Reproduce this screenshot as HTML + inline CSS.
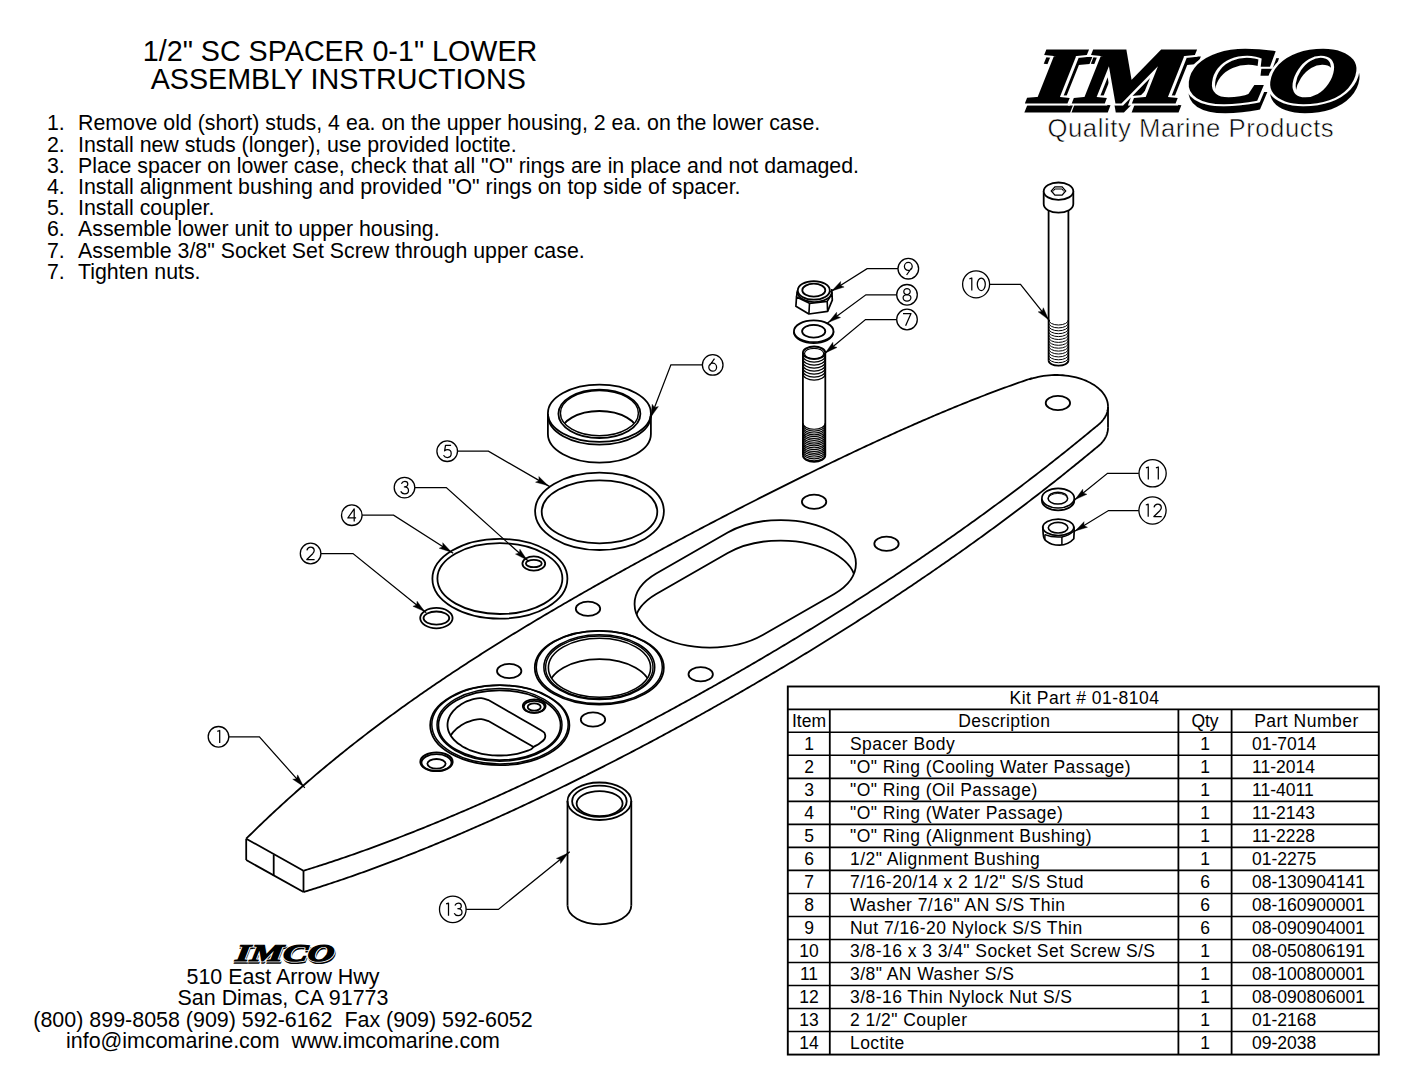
<!DOCTYPE html>
<html><head><meta charset="utf-8"><style>
html,body{margin:0;padding:0;background:#fff;}
body{width:1408px;height:1088px;overflow:hidden;position:relative;}
svg{position:absolute;left:0;top:0;}
text{font-family:"Liberation Sans", sans-serif;fill:#000;}
</style></head><body>
<svg width="1408" height="1088" viewBox="0 0 1408 1088">
<text x="340" y="60.5" font-size="28.7" text-anchor="middle" >1/2" SC SPACER 0-1" LOWER</text>
<text x="338.2" y="89" font-size="28.7" text-anchor="middle" >ASSEMBLY INSTRUCTIONS</text>
<text x="47" y="130.3" font-size="21.33" text-anchor="start" >1.</text>
<text x="78" y="130.3" font-size="21.33" text-anchor="start" >Remove old (short) studs, 4 ea. on the upper housing, 2 ea. on the lower case.</text>
<text x="47" y="151.5" font-size="21.33" text-anchor="start" >2.</text>
<text x="78" y="151.5" font-size="21.33" text-anchor="start" >Install new studs (longer), use provided loctite.</text>
<text x="47" y="172.70000000000002" font-size="21.33" text-anchor="start" >3.</text>
<text x="78" y="172.70000000000002" font-size="21.33" text-anchor="start" >Place spacer on lower case, check that all "O" rings are in place and not damaged.</text>
<text x="47" y="193.9" font-size="21.33" text-anchor="start" >4.</text>
<text x="78" y="193.9" font-size="21.33" text-anchor="start" >Install alignment bushing and provided "O" rings on top side of spacer.</text>
<text x="47" y="215.10000000000002" font-size="21.33" text-anchor="start" >5.</text>
<text x="78" y="215.10000000000002" font-size="21.33" text-anchor="start" >Install coupler.</text>
<text x="47" y="236.3" font-size="21.33" text-anchor="start" >6.</text>
<text x="78" y="236.3" font-size="21.33" text-anchor="start" >Assemble lower unit to upper housing.</text>
<text x="47" y="257.5" font-size="21.33" text-anchor="start" >7.</text>
<text x="78" y="257.5" font-size="21.33" text-anchor="start" >Assemble 3/8" Socket Set Screw through upper case.</text>
<text x="47" y="278.70000000000005" font-size="21.33" text-anchor="start" >7.</text>
<text x="78" y="278.70000000000005" font-size="21.33" text-anchor="start" >Tighten nuts.</text>
<text x="283" y="984" font-size="21.45" text-anchor="middle" >510 East Arrow Hwy</text>
<text x="283" y="1005.3" font-size="21.45" text-anchor="middle" >San Dimas, CA 91773</text>
<text x="283" y="1026.6" font-size="21.45" text-anchor="middle"  xml:space="preserve">(800) 899-8058 (909) 592-6162  Fax (909) 592-6052</text>
<text x="283" y="1048" font-size="21.45" text-anchor="middle"  xml:space="preserve">info@imcomarine.com  www.imcomarine.com</text>
<g transform="translate(1029,102) skewX(-7) scale(1.56,1)">
<text x="1.60" y="7.5" style="font-family:'Liberation Serif',serif;font-weight:bold;font-style:italic;font-size:78px" fill="#000" stroke="#000" stroke-width="5" stroke-linejoin="miter">IMCO</text>
<text x="0" y="0" style="font-family:'Liberation Serif',serif;font-weight:bold;font-style:italic;font-size:78px" fill="none" stroke="#fff" stroke-width="7" stroke-linejoin="miter">IMCO</text>
<text x="0" y="0" style="font-family:'Liberation Serif',serif;font-weight:bold;font-style:italic;font-size:78px" fill="#000" stroke="#000" stroke-width="3" stroke-linejoin="miter">IMCO</text>
</g>
<g transform="translate(235,960.5) skewX(-7) scale(1.54,1)">
<text x="0.52" y="2.3" style="font-family:'Liberation Serif',serif;font-weight:bold;font-style:italic;font-size:24px" fill="#000" stroke="#000" stroke-width="1.7" stroke-linejoin="miter">IMCO</text>
<text x="0" y="0" style="font-family:'Liberation Serif',serif;font-weight:bold;font-style:italic;font-size:24px" fill="none" stroke="#fff" stroke-width="2.5" stroke-linejoin="miter">IMCO</text>
<text x="0" y="0" style="font-family:'Liberation Serif',serif;font-weight:bold;font-style:italic;font-size:24px" fill="#000" stroke="#000" stroke-width="1.1" stroke-linejoin="miter">IMCO</text>
</g>
<text x="1047.5" y="137" font-size="25.7" text-anchor="start"  letter-spacing="0.55" stroke="#fff" stroke-width="0.55">Quality Marine Products</text>
<rect x="787.8" y="686.5" width="591.0" height="368.0799999999999" fill="none" stroke="#000" stroke-width="1.9"/>
<line x1="787.8" y1="709.4" x2="1378.8" y2="709.4" stroke="#000" stroke-width="1.6"/>
<line x1="787.8" y1="732.3" x2="1378.8" y2="732.3" stroke="#000" stroke-width="1.6"/>
<line x1="787.8" y1="755.3199999999999" x2="1378.8" y2="755.3199999999999" stroke="#000" stroke-width="1.6"/>
<line x1="787.8" y1="778.3399999999999" x2="1378.8" y2="778.3399999999999" stroke="#000" stroke-width="1.6"/>
<line x1="787.8" y1="801.3599999999999" x2="1378.8" y2="801.3599999999999" stroke="#000" stroke-width="1.6"/>
<line x1="787.8" y1="824.38" x2="1378.8" y2="824.38" stroke="#000" stroke-width="1.6"/>
<line x1="787.8" y1="847.4" x2="1378.8" y2="847.4" stroke="#000" stroke-width="1.6"/>
<line x1="787.8" y1="870.42" x2="1378.8" y2="870.42" stroke="#000" stroke-width="1.6"/>
<line x1="787.8" y1="893.4399999999999" x2="1378.8" y2="893.4399999999999" stroke="#000" stroke-width="1.6"/>
<line x1="787.8" y1="916.4599999999999" x2="1378.8" y2="916.4599999999999" stroke="#000" stroke-width="1.6"/>
<line x1="787.8" y1="939.48" x2="1378.8" y2="939.48" stroke="#000" stroke-width="1.6"/>
<line x1="787.8" y1="962.5" x2="1378.8" y2="962.5" stroke="#000" stroke-width="1.6"/>
<line x1="787.8" y1="985.52" x2="1378.8" y2="985.52" stroke="#000" stroke-width="1.6"/>
<line x1="787.8" y1="1008.54" x2="1378.8" y2="1008.54" stroke="#000" stroke-width="1.6"/>
<line x1="787.8" y1="1031.56" x2="1378.8" y2="1031.56" stroke="#000" stroke-width="1.6"/>
<line x1="829.8" y1="709.4" x2="829.8" y2="1054.58" stroke="#000" stroke-width="1.8"/>
<line x1="1178.4" y1="709.4" x2="1178.4" y2="1054.58" stroke="#000" stroke-width="1.8"/>
<line x1="1231.6" y1="709.4" x2="1231.6" y2="1054.58" stroke="#000" stroke-width="1.8"/>
<text x="1084.5" y="703.5" font-size="17.5" text-anchor="middle"  letter-spacing="0.5">Kit Part # 01-8104</text>
<text x="809" y="727.0" font-size="17.5" text-anchor="middle" >Item</text>
<text x="1004.3" y="727.0" font-size="17.5" text-anchor="middle"  letter-spacing="0.4">Description</text>
<text x="1205" y="727.0" font-size="17.5" text-anchor="middle" >Qty</text>
<text x="1306.5" y="727.0" font-size="17.5" text-anchor="middle"  letter-spacing="0.5">Part Number</text>
<text x="809" y="750.0" font-size="17.5" text-anchor="middle" >1</text>
<text x="850" y="750.0" font-size="17.5" text-anchor="start"  letter-spacing="0.45">Spacer Body</text>
<text x="1205" y="750.0" font-size="17.5" text-anchor="middle" >1</text>
<text x="1252" y="750.0" font-size="17.5" text-anchor="start" >01-7014</text>
<text x="809" y="773.02" font-size="17.5" text-anchor="middle" >2</text>
<text x="850" y="773.02" font-size="17.5" text-anchor="start"  letter-spacing="0.45">"O" Ring (Cooling Water Passage)</text>
<text x="1205" y="773.02" font-size="17.5" text-anchor="middle" >1</text>
<text x="1252" y="773.02" font-size="17.5" text-anchor="start" >11-2014</text>
<text x="809" y="796.04" font-size="17.5" text-anchor="middle" >3</text>
<text x="850" y="796.04" font-size="17.5" text-anchor="start"  letter-spacing="0.45">"O" Ring (Oil Passage)</text>
<text x="1205" y="796.04" font-size="17.5" text-anchor="middle" >1</text>
<text x="1252" y="796.04" font-size="17.5" text-anchor="start" >11-4011</text>
<text x="809" y="819.06" font-size="17.5" text-anchor="middle" >4</text>
<text x="850" y="819.06" font-size="17.5" text-anchor="start"  letter-spacing="0.45">"O" Ring (Water Passage)</text>
<text x="1205" y="819.06" font-size="17.5" text-anchor="middle" >1</text>
<text x="1252" y="819.06" font-size="17.5" text-anchor="start" >11-2143</text>
<text x="809" y="842.08" font-size="17.5" text-anchor="middle" >5</text>
<text x="850" y="842.08" font-size="17.5" text-anchor="start"  letter-spacing="0.45">"O" Ring (Alignment Bushing)</text>
<text x="1205" y="842.08" font-size="17.5" text-anchor="middle" >1</text>
<text x="1252" y="842.08" font-size="17.5" text-anchor="start" >11-2228</text>
<text x="809" y="865.1" font-size="17.5" text-anchor="middle" >6</text>
<text x="850" y="865.1" font-size="17.5" text-anchor="start"  letter-spacing="0.45">1/2" Alignment Bushing</text>
<text x="1205" y="865.1" font-size="17.5" text-anchor="middle" >1</text>
<text x="1252" y="865.1" font-size="17.5" text-anchor="start" >01-2275</text>
<text x="809" y="888.12" font-size="17.5" text-anchor="middle" >7</text>
<text x="850" y="888.12" font-size="17.5" text-anchor="start"  letter-spacing="0.45">7/16-20/14 x 2 1/2" S/S Stud</text>
<text x="1205" y="888.12" font-size="17.5" text-anchor="middle" >6</text>
<text x="1252" y="888.12" font-size="17.5" text-anchor="start" >08-130904141</text>
<text x="809" y="911.14" font-size="17.5" text-anchor="middle" >8</text>
<text x="850" y="911.14" font-size="17.5" text-anchor="start"  letter-spacing="0.45">Washer 7/16" AN S/S Thin</text>
<text x="1205" y="911.14" font-size="17.5" text-anchor="middle" >6</text>
<text x="1252" y="911.14" font-size="17.5" text-anchor="start" >08-160900001</text>
<text x="809" y="934.16" font-size="17.5" text-anchor="middle" >9</text>
<text x="850" y="934.16" font-size="17.5" text-anchor="start"  letter-spacing="0.45">Nut 7/16-20 Nylock S/S Thin</text>
<text x="1205" y="934.16" font-size="17.5" text-anchor="middle" >6</text>
<text x="1252" y="934.16" font-size="17.5" text-anchor="start" >08-090904001</text>
<text x="809" y="957.1800000000001" font-size="17.5" text-anchor="middle" >10</text>
<text x="850" y="957.1800000000001" font-size="17.5" text-anchor="start"  letter-spacing="0.45">3/8-16 x 3 3/4" Socket Set Screw S/S</text>
<text x="1205" y="957.1800000000001" font-size="17.5" text-anchor="middle" >1</text>
<text x="1252" y="957.1800000000001" font-size="17.5" text-anchor="start" >08-050806191</text>
<text x="809" y="980.2" font-size="17.5" text-anchor="middle" >11</text>
<text x="850" y="980.2" font-size="17.5" text-anchor="start"  letter-spacing="0.45">3/8" AN Washer S/S</text>
<text x="1205" y="980.2" font-size="17.5" text-anchor="middle" >1</text>
<text x="1252" y="980.2" font-size="17.5" text-anchor="start" >08-100800001</text>
<text x="809" y="1003.22" font-size="17.5" text-anchor="middle" >12</text>
<text x="850" y="1003.22" font-size="17.5" text-anchor="start"  letter-spacing="0.45">3/8-16 Thin Nylock Nut S/S</text>
<text x="1205" y="1003.22" font-size="17.5" text-anchor="middle" >1</text>
<text x="1252" y="1003.22" font-size="17.5" text-anchor="start" >08-090806001</text>
<text x="809" y="1026.24" font-size="17.5" text-anchor="middle" >13</text>
<text x="850" y="1026.24" font-size="17.5" text-anchor="start"  letter-spacing="0.45">2 1/2" Coupler</text>
<text x="1205" y="1026.24" font-size="17.5" text-anchor="middle" >1</text>
<text x="1252" y="1026.24" font-size="17.5" text-anchor="start" >01-2168</text>
<text x="809" y="1049.26" font-size="17.5" text-anchor="middle" >14</text>
<text x="850" y="1049.26" font-size="17.5" text-anchor="start"  letter-spacing="0.45">Loctite</text>
<text x="1205" y="1049.26" font-size="17.5" text-anchor="middle" >1</text>
<text x="1252" y="1049.26" font-size="17.5" text-anchor="start" >09-2038</text>
<path d="M246.20,838.71 L248.20,836.73 L250.20,834.75 L252.20,832.79 L254.20,830.83 L256.21,828.88 L258.21,826.95 L260.21,825.02 L262.21,823.10 L264.21,821.19 L266.21,819.29 L268.21,817.39 L270.21,815.51 L272.22,813.64 L274.22,811.77 L276.22,809.91 L278.22,808.06 L280.22,806.22 L282.22,804.39 L284.22,802.56 L286.22,800.74 L288.23,798.93 L290.23,797.13 L292.23,795.34 L294.23,793.56 L296.23,791.78 L298.23,790.01 L300.23,788.25 L302.23,786.50 L304.24,784.75 L306.24,783.01 L308.24,781.28 L310.24,779.56 L312.24,777.84 L314.24,776.13 L316.24,774.43 L318.24,772.74 L320.25,771.05 L322.25,769.37 L324.25,767.70 L326.25,766.03 L328.25,764.37 L330.25,762.72 L332.25,761.07 L334.25,759.43 L336.26,757.80 L338.26,756.18 L340.26,754.56 L342.26,752.95 L344.26,751.34 L346.26,749.74 L348.26,748.15 L350.26,746.56 L352.27,744.98 L354.27,743.41 L356.27,741.84 L358.27,740.28 L360.27,738.72 L362.27,737.17 L364.27,735.63 L366.27,734.09 L368.28,732.56 L370.28,731.03 L372.28,729.51 L374.28,727.99 L376.28,726.48 L378.28,724.98 L380.28,723.48 L382.28,721.99 L384.29,720.50 L386.29,719.02 L388.29,717.54 L390.29,716.07 L392.29,714.61 L394.29,713.15 L396.29,711.69 L398.29,710.24 L400.29,708.79 L402.30,707.35 L404.30,705.92 L406.30,704.49 L408.30,703.06 L410.30,701.64 L412.30,700.23 L414.30,698.81 L416.30,697.41 L418.31,696.01 L420.31,694.61 L422.31,693.22 L424.31,691.83 L426.31,690.44 L428.31,689.06 L430.31,687.69 L432.31,686.32 L434.32,684.95 L436.32,683.59 L438.32,682.23 L440.32,680.88 L442.32,679.53 L444.32,678.18 L446.32,676.84 L448.32,675.50 L450.33,674.17 L452.33,672.84 L454.33,671.52 L456.33,670.19 L458.33,668.88 L460.33,667.56 L462.33,666.25 L464.33,664.94 L466.34,663.64 L468.34,662.34 L470.34,661.05 L472.34,659.75 L474.34,658.47 L476.34,657.18 L478.34,655.90 L480.34,654.62 L482.35,653.35 L484.35,652.07 L486.35,650.81 L488.35,649.54 L490.35,648.28 L492.35,647.02 L494.35,645.77 L496.35,644.51 L498.36,643.26 L500.36,642.02 L502.36,640.77 L504.36,639.53 L506.36,638.30 L508.36,637.06 L510.36,635.83 L512.36,634.60 L514.37,633.38 L516.37,632.16 L518.37,630.94 L520.37,629.72 L522.37,628.51 L524.37,627.29 L526.37,626.09 L528.37,624.88 L530.38,623.68 L532.38,622.48 L534.38,621.28 L536.38,620.08 L538.38,618.89 L540.38,617.70 L542.38,616.51 L544.38,615.32 L546.39,614.14 L548.39,612.96 L550.39,611.78 L552.39,610.60 L554.39,609.43 L556.39,608.26 L558.39,607.09 L560.39,605.92 L562.39,604.76 L564.40,603.59 L566.40,602.43 L568.40,601.27 L570.40,600.12 L572.40,598.96 L574.40,597.81 L576.40,596.66 L578.40,595.51 L580.41,594.37 L582.41,593.22 L584.41,592.08 L586.41,590.94 L588.41,589.80 L590.41,588.67 L592.41,587.53 L594.41,586.40 L596.42,585.27 L598.42,584.14 L600.42,583.01 L602.42,581.89 L604.42,580.76 L606.42,579.64 L608.42,578.52 L610.42,577.40 L612.43,576.29 L614.43,575.17 L616.43,574.06 L618.43,572.95 L620.43,571.84 L622.43,570.73 L624.43,569.62 L626.43,568.52 L628.44,567.42 L630.44,566.31 L632.44,565.21 L634.44,564.11 L636.44,563.02 L638.44,561.92 L640.44,560.83 L642.44,559.74 L644.45,558.64 L646.45,557.56 L648.45,556.47 L650.45,555.38 L652.45,554.30 L654.45,553.21 L656.45,552.13 L658.45,551.05 L660.46,549.97 L662.46,548.89 L664.46,547.81 L666.46,546.74 L668.46,545.66 L670.46,544.59 L672.46,543.52 L674.46,542.45 L676.47,541.38 L678.47,540.32 L680.47,539.25 L682.47,538.18 L684.47,537.12 L686.47,536.06 L688.47,535.00 L690.47,533.94 L692.48,532.88 L694.48,531.82 L696.48,530.77 L698.48,529.72 L700.48,528.66 L702.48,527.61 L704.48,526.56 L706.48,525.51 L708.48,524.46 L710.49,523.42 L712.49,522.37 L714.49,521.33 L716.49,520.28 L718.49,519.24 L720.49,518.20 L722.49,517.16 L724.49,516.13 L726.50,515.09 L728.50,514.05 L730.50,513.02 L732.50,511.99 L734.50,510.95 L736.50,509.92 L738.50,508.90 L740.50,507.87 L742.51,506.84 L744.51,505.82 L746.51,504.79 L748.51,503.77 L750.51,502.75 L752.51,501.73 L754.51,500.71 L756.51,499.69 L758.52,498.67 L760.52,497.66 L762.52,496.64 L764.52,495.63 L766.52,494.62 L768.52,493.61 L770.52,492.60 L772.52,491.60 L774.53,490.59 L776.53,489.58 L778.53,488.58 L780.53,487.58 L782.53,486.58 L784.53,485.58 L786.53,484.58 L788.53,483.59 L790.54,482.59 L792.54,481.60 L794.54,480.61 L796.54,479.61 L798.54,478.62 L800.54,477.64 L802.54,476.65 L804.54,475.67 L806.55,474.68 L808.55,473.70 L810.55,472.72 L812.55,471.74 L814.55,470.76 L816.55,469.79 L818.55,468.81 L820.55,467.84 L822.56,466.87 L824.56,465.90 L826.56,464.93 L828.56,463.96 L830.56,463.00 L832.56,462.04 L834.56,461.08 L836.56,460.12 L838.57,459.16 L840.57,458.20 L842.57,457.25 L844.57,456.29 L846.57,455.34 L848.57,454.39 L850.57,453.45 L852.57,452.50 L854.57,451.56 L856.58,450.61 L858.58,449.67 L860.58,448.73 L862.58,447.80 L864.58,446.86 L866.58,445.93 L868.58,445.00 L870.58,444.07 L872.59,443.15 L874.59,442.22 L876.59,441.30 L878.59,440.38 L880.59,439.46 L882.59,438.54 L884.59,437.63 L886.59,436.72 L888.60,435.81 L890.60,434.90 L892.60,433.99 L894.60,433.09 L896.60,432.19 L898.60,431.29 L900.60,430.40 L902.60,429.50 L904.61,428.61 L906.61,427.72 L908.61,426.84 L910.61,425.95 L912.61,425.07 L914.61,424.19 L916.61,423.31 L918.61,422.44 L920.62,421.57 L922.62,420.70 L924.62,419.83 L926.62,418.97 L928.62,418.11 L930.62,417.25 L932.62,416.40 L934.62,415.54 L936.63,414.69 L938.63,413.85 L940.63,413.00 L942.63,412.16 L944.63,411.32 L946.63,410.49 L948.63,409.66 L950.63,408.83 L952.64,408.00 L954.64,407.18 L956.64,406.36 L958.64,405.54 L960.64,404.73 L962.64,403.92 L964.64,403.11 L966.64,402.31 L968.65,401.51 L970.65,400.71 L972.65,399.92 L974.65,399.13 L976.65,398.34 L978.65,397.56 L980.65,396.78 L982.65,396.00 L984.66,395.23 L986.66,394.46 L988.66,393.70 L990.66,392.93 L992.66,392.18 L994.66,391.42 L996.66,390.67 L998.66,389.93 L1000.67,389.19 L1002.67,388.45 L1004.67,387.71 L1006.67,386.98 L1008.67,386.26 L1010.67,385.54 L1012.67,384.82 L1014.67,384.11 L1016.67,383.40 L1018.68,382.69 L1020.68,381.99 L1022.68,381.29 L1024.68,380.60 L1026.68,379.92 L1028.68,379.23 L1030.68,378.55 L1030.68,378.99 L1033.14,378.21 L1035.66,377.51 L1038.24,376.89 L1040.87,376.36 L1043.54,375.92 L1046.25,375.56 L1048.99,375.29 L1051.74,375.11 L1054.51,375.01 L1057.28,375.01 L1060.05,375.10 L1062.81,375.27 L1065.55,375.54 L1068.26,375.89 L1070.93,376.33 L1073.56,376.85 L1076.15,377.46 L1078.67,378.15 L1081.14,378.92 L1083.53,379.77 L1085.84,380.70 L1088.06,381.70 L1090.20,382.77 L1092.24,383.91 L1094.17,385.11 L1096.00,386.37 L1097.72,387.69 L1099.31,389.07 L1100.78,390.49 L1102.13,391.96 L1103.34,393.47 L1104.42,395.02 L1105.36,396.59 L1106.16,398.20 L1106.82,399.83 L1107.34,401.48 L1107.70,403.15 L1107.93,404.82 L1108.00,406.50" fill="none" stroke="#000" stroke-width="1.8" />
<path d="M303.50,870.75 L305.50,870.13 L307.50,869.51 L309.50,868.89 L311.51,868.26 L313.51,867.63 L315.51,867.00 L317.51,866.36 L319.51,865.72 L321.51,865.08 L323.51,864.43 L325.52,863.77 L327.52,863.12 L329.52,862.46 L331.52,861.80 L333.52,861.13 L335.52,860.46 L337.52,859.79 L339.53,859.11 L341.53,858.43 L343.53,857.75 L345.53,857.06 L347.53,856.37 L349.53,855.68 L351.53,854.98 L353.54,854.28 L355.54,853.58 L357.54,852.87 L359.54,852.16 L361.54,851.44 L363.54,850.73 L365.54,850.01 L367.55,849.28 L369.55,848.56 L371.55,847.83 L373.55,847.09 L375.55,846.36 L377.55,845.62 L379.55,844.88 L381.56,844.13 L383.56,843.38 L385.56,842.63 L387.56,841.88 L389.56,841.12 L391.56,840.36 L393.57,839.59 L395.57,838.83 L397.57,838.06 L399.57,837.28 L401.57,836.51 L403.57,835.73 L405.57,834.95 L407.58,834.16 L409.58,833.38 L411.58,832.59 L413.58,831.79 L415.58,831.00 L417.58,830.20 L419.58,829.40 L421.59,828.59 L423.59,827.79 L425.59,826.98 L427.59,826.16 L429.59,825.35 L431.59,824.53 L433.59,823.71 L435.60,822.88 L437.60,822.06 L439.60,821.23 L441.60,820.40 L443.60,819.56 L445.60,818.72 L447.60,817.88 L449.61,817.04 L451.61,816.20 L453.61,815.35 L455.61,814.50 L457.61,813.65 L459.61,812.79 L461.61,811.93 L463.62,811.07 L465.62,810.21 L467.62,809.34 L469.62,808.47 L471.62,807.60 L473.62,806.73 L475.62,805.85 L477.63,804.98 L479.63,804.09 L481.63,803.21 L483.63,802.33 L485.63,801.44 L487.63,800.55 L489.63,799.65 L491.64,798.76 L493.64,797.86 L495.64,796.96 L497.64,796.06 L499.64,795.15 L501.64,794.25 L503.64,793.34 L505.65,792.43 L507.65,791.51 L509.65,790.60 L511.65,789.68 L513.65,788.76 L515.65,787.83 L517.65,786.91 L519.66,785.98 L521.66,785.05 L523.66,784.12 L525.66,783.18 L527.66,782.24 L529.66,781.30 L531.66,780.36 L533.67,779.42 L535.67,778.47 L537.67,777.53 L539.67,776.57 L541.67,775.62 L543.67,774.67 L545.68,773.71 L547.68,772.75 L549.68,771.79 L551.68,770.83 L553.68,769.86 L555.68,768.89 L557.68,767.92 L559.69,766.95 L561.69,765.98 L563.69,765.00 L565.69,764.02 L567.69,763.04 L569.69,762.06 L571.69,761.08 L573.70,760.09 L575.70,759.10 L577.70,758.11 L579.70,757.12 L581.70,756.12 L583.70,755.13 L585.70,754.13 L587.71,753.12 L589.71,752.12 L591.71,751.12 L593.71,750.11 L595.71,749.10 L597.71,748.09 L599.71,747.08 L601.72,746.06 L603.72,745.04 L605.72,744.02 L607.72,743.00 L609.72,741.98 L611.72,740.95 L613.72,739.92 L615.73,738.90 L617.73,737.86 L619.73,736.83 L621.73,735.79 L623.73,734.76 L625.73,733.72 L627.73,732.68 L629.74,731.63 L631.74,730.59 L633.74,729.54 L635.74,728.49 L637.74,727.44 L639.74,726.39 L641.74,725.33 L643.75,724.27 L645.75,723.22 L647.75,722.15 L649.75,721.09 L651.75,720.03 L653.75,718.96 L655.75,717.89 L657.76,716.82 L659.76,715.75 L661.76,714.67 L663.76,713.59 L665.76,712.52 L667.76,711.44 L669.76,710.35 L671.77,709.27 L673.77,708.18 L675.77,707.09 L677.77,706.00 L679.77,704.91 L681.77,703.82 L683.77,702.72 L685.78,701.62 L687.78,700.52 L689.78,699.42 L691.78,698.32 L693.78,697.21 L695.78,696.10 L697.79,694.99 L699.79,693.88 L701.79,692.77 L703.79,691.65 L705.79,690.53 L707.79,689.41 L709.79,688.29 L711.80,687.17 L713.80,686.04 L715.80,684.91 L717.80,683.78 L719.80,682.65 L721.80,681.52 L723.80,680.38 L725.81,679.25 L727.81,678.11 L729.81,676.97 L731.81,675.82 L733.81,674.68 L735.81,673.53 L737.81,672.38 L739.82,671.23 L741.82,670.08 L743.82,668.92 L745.82,667.76 L747.82,666.60 L749.82,665.44 L751.82,664.28 L753.83,663.11 L755.83,661.95 L757.83,660.78 L759.83,659.60 L761.83,658.43 L763.83,657.25 L765.83,656.08 L767.84,654.90 L769.84,653.71 L771.84,652.53 L773.84,651.34 L775.84,650.16 L777.84,648.97 L779.84,647.77 L781.85,646.58 L783.85,645.38 L785.85,644.18 L787.85,642.98 L789.85,641.78 L791.85,640.58 L793.85,639.37 L795.86,638.16 L797.86,636.95 L799.86,635.73 L801.86,634.52 L803.86,633.30 L805.86,632.08 L807.86,630.86 L809.87,629.63 L811.87,628.41 L813.87,627.18 L815.87,625.95 L817.87,624.71 L819.87,623.48 L821.87,622.24 L823.88,621.00 L825.88,619.76 L827.88,618.51 L829.88,617.27 L831.88,616.02 L833.88,614.77 L835.88,613.51 L837.89,612.26 L839.89,611.00 L841.89,609.74 L843.89,608.48 L845.89,607.21 L847.89,605.94 L849.90,604.68 L851.90,603.40 L853.90,602.13 L855.90,600.85 L857.90,599.57 L859.90,598.29 L861.90,597.01 L863.91,595.72 L865.91,594.43 L867.91,593.14 L869.91,591.85 L871.91,590.55 L873.91,589.25 L875.91,587.95 L877.92,586.65 L879.92,585.34 L881.92,584.03 L883.92,582.72 L885.92,581.41 L887.92,580.09 L889.92,578.77 L891.93,577.45 L893.93,576.13 L895.93,574.80 L897.93,573.47 L899.93,572.14 L901.93,570.80 L903.93,569.47 L905.94,568.13 L907.94,566.78 L909.94,565.44 L911.94,564.09 L913.94,562.74 L915.94,561.39 L917.94,560.03 L919.95,558.67 L921.95,557.31 L923.95,555.95 L925.95,554.58 L927.95,553.21 L929.95,551.84 L931.95,550.46 L933.96,549.08 L935.96,547.70 L937.96,546.32 L939.96,544.93 L941.96,543.54 L943.96,542.15 L945.96,540.76 L947.97,539.36 L949.97,537.96 L951.97,536.55 L953.97,535.14 L955.97,533.73 L957.97,532.32 L959.97,530.90 L961.98,529.49 L963.98,528.06 L965.98,526.64 L967.98,525.21 L969.98,523.78 L971.98,522.34 L973.98,520.90 L975.99,519.46 L977.99,518.02 L979.99,516.57 L981.99,515.12 L983.99,513.67 L985.99,512.21 L987.99,510.75 L990.00,509.29 L992.00,507.82 L994.00,506.35 L996.00,504.88 L998.00,503.40 L1000.00,501.92 L1002.00,500.44 L1004.01,498.95 L1006.01,497.46 L1008.01,495.97 L1010.01,494.47 L1012.01,492.97 L1014.01,491.47 L1016.02,489.96 L1018.02,488.45 L1020.02,486.93 L1022.02,485.42 L1024.02,483.89 L1026.02,482.37 L1028.02,480.84 L1030.03,479.31 L1032.03,477.77 L1034.03,476.23 L1036.03,474.69 L1038.03,473.14 L1040.03,471.59 L1042.03,470.04 L1044.04,468.48 L1046.04,466.92 L1048.04,465.35 L1050.04,463.78 L1052.04,462.21 L1054.04,460.63 L1056.04,459.05 L1058.05,457.47 L1060.05,455.88 L1062.05,454.28 L1064.05,452.69 L1066.05,451.09 L1068.05,449.48 L1070.05,447.87 L1072.06,446.26 L1074.06,444.64 L1076.06,443.02 L1078.06,441.40 L1080.06,439.77 L1082.06,438.14 L1084.06,436.50 L1086.07,434.86 L1088.07,433.21 L1090.07,431.56 L1092.07,429.91 L1094.07,428.25 L1096.07,426.59 L1098.07,424.92 L1098.07,425.01 L1098.56,424.60 L1099.04,424.18 L1099.50,423.76 L1099.95,423.33 L1100.40,422.90 L1100.83,422.47 L1101.25,422.03 L1101.65,421.58 L1102.05,421.13 L1102.43,420.68 L1102.80,420.23 L1103.16,419.77 L1103.51,419.31 L1103.84,418.84 L1104.16,418.38 L1104.47,417.90 L1104.77,417.43 L1105.05,416.95 L1105.33,416.47 L1105.58,415.99 L1105.83,415.50 L1106.06,415.02 L1106.28,414.53 L1106.49,414.04 L1106.68,413.54 L1106.86,413.05 L1107.03,412.55 L1107.19,412.05 L1107.33,411.55 L1107.45,411.05 L1107.57,410.55 L1107.67,410.04 L1107.76,409.54 L1107.83,409.03 L1107.89,408.53 L1107.94,408.02 L1107.97,407.51 L1107.99,407.01 L1108.00,406.50" fill="none" stroke="#000" stroke-width="1.8" />
<path d="M303.50,892.05 L305.50,891.43 L307.50,890.81 L309.50,890.19 L311.51,889.56 L313.51,888.93 L315.51,888.30 L317.51,887.66 L319.51,887.02 L321.51,886.38 L323.51,885.73 L325.52,885.07 L327.52,884.42 L329.52,883.76 L331.52,883.10 L333.52,882.43 L335.52,881.76 L337.52,881.09 L339.53,880.41 L341.53,879.73 L343.53,879.05 L345.53,878.36 L347.53,877.67 L349.53,876.98 L351.53,876.28 L353.54,875.58 L355.54,874.88 L357.54,874.17 L359.54,873.46 L361.54,872.74 L363.54,872.03 L365.54,871.31 L367.55,870.58 L369.55,869.86 L371.55,869.13 L373.55,868.39 L375.55,867.66 L377.55,866.92 L379.55,866.18 L381.56,865.43 L383.56,864.68 L385.56,863.93 L387.56,863.18 L389.56,862.42 L391.56,861.66 L393.57,860.89 L395.57,860.13 L397.57,859.36 L399.57,858.58 L401.57,857.81 L403.57,857.03 L405.57,856.25 L407.58,855.46 L409.58,854.68 L411.58,853.89 L413.58,853.09 L415.58,852.30 L417.58,851.50 L419.58,850.70 L421.59,849.89 L423.59,849.09 L425.59,848.28 L427.59,847.46 L429.59,846.65 L431.59,845.83 L433.59,845.01 L435.60,844.18 L437.60,843.36 L439.60,842.53 L441.60,841.70 L443.60,840.86 L445.60,840.02 L447.60,839.18 L449.61,838.34 L451.61,837.50 L453.61,836.65 L455.61,835.80 L457.61,834.95 L459.61,834.09 L461.61,833.23 L463.62,832.37 L465.62,831.51 L467.62,830.64 L469.62,829.77 L471.62,828.90 L473.62,828.03 L475.62,827.15 L477.63,826.28 L479.63,825.39 L481.63,824.51 L483.63,823.63 L485.63,822.74 L487.63,821.85 L489.63,820.95 L491.64,820.06 L493.64,819.16 L495.64,818.26 L497.64,817.36 L499.64,816.45 L501.64,815.55 L503.64,814.64 L505.65,813.73 L507.65,812.81 L509.65,811.90 L511.65,810.98 L513.65,810.06 L515.65,809.13 L517.65,808.21 L519.66,807.28 L521.66,806.35 L523.66,805.42 L525.66,804.48 L527.66,803.54 L529.66,802.60 L531.66,801.66 L533.67,800.72 L535.67,799.77 L537.67,798.83 L539.67,797.87 L541.67,796.92 L543.67,795.97 L545.68,795.01 L547.68,794.05 L549.68,793.09 L551.68,792.13 L553.68,791.16 L555.68,790.19 L557.68,789.22 L559.69,788.25 L561.69,787.28 L563.69,786.30 L565.69,785.32 L567.69,784.34 L569.69,783.36 L571.69,782.38 L573.70,781.39 L575.70,780.40 L577.70,779.41 L579.70,778.42 L581.70,777.42 L583.70,776.43 L585.70,775.43 L587.71,774.42 L589.71,773.42 L591.71,772.42 L593.71,771.41 L595.71,770.40 L597.71,769.39 L599.71,768.38 L601.72,767.36 L603.72,766.34 L605.72,765.32 L607.72,764.30 L609.72,763.28 L611.72,762.25 L613.72,761.22 L615.73,760.20 L617.73,759.16 L619.73,758.13 L621.73,757.09 L623.73,756.06 L625.73,755.02 L627.73,753.98 L629.74,752.93 L631.74,751.89 L633.74,750.84 L635.74,749.79 L637.74,748.74 L639.74,747.69 L641.74,746.63 L643.75,745.57 L645.75,744.52 L647.75,743.45 L649.75,742.39 L651.75,741.33 L653.75,740.26 L655.75,739.19 L657.76,738.12 L659.76,737.05 L661.76,735.97 L663.76,734.89 L665.76,733.82 L667.76,732.74 L669.76,731.65 L671.77,730.57 L673.77,729.48 L675.77,728.39 L677.77,727.30 L679.77,726.21 L681.77,725.12 L683.77,724.02 L685.78,722.92 L687.78,721.82 L689.78,720.72 L691.78,719.62 L693.78,718.51 L695.78,717.40 L697.79,716.29 L699.79,715.18 L701.79,714.07 L703.79,712.95 L705.79,711.83 L707.79,710.71 L709.79,709.59 L711.80,708.47 L713.80,707.34 L715.80,706.21 L717.80,705.08 L719.80,703.95 L721.80,702.82 L723.80,701.68 L725.81,700.55 L727.81,699.41 L729.81,698.27 L731.81,697.12 L733.81,695.98 L735.81,694.83 L737.81,693.68 L739.82,692.53 L741.82,691.38 L743.82,690.22 L745.82,689.06 L747.82,687.90 L749.82,686.74 L751.82,685.58 L753.83,684.41 L755.83,683.25 L757.83,682.08 L759.83,680.90 L761.83,679.73 L763.83,678.55 L765.83,677.38 L767.84,676.20 L769.84,675.01 L771.84,673.83 L773.84,672.64 L775.84,671.46 L777.84,670.27 L779.84,669.07 L781.85,667.88 L783.85,666.68 L785.85,665.48 L787.85,664.28 L789.85,663.08 L791.85,661.88 L793.85,660.67 L795.86,659.46 L797.86,658.25 L799.86,657.03 L801.86,655.82 L803.86,654.60 L805.86,653.38 L807.86,652.16 L809.87,650.93 L811.87,649.71 L813.87,648.48 L815.87,647.25 L817.87,646.01 L819.87,644.78 L821.87,643.54 L823.88,642.30 L825.88,641.06 L827.88,639.81 L829.88,638.57 L831.88,637.32 L833.88,636.07 L835.88,634.81 L837.89,633.56 L839.89,632.30 L841.89,631.04 L843.89,629.78 L845.89,628.51 L847.89,627.24 L849.90,625.98 L851.90,624.70 L853.90,623.43 L855.90,622.15 L857.90,620.87 L859.90,619.59 L861.90,618.31 L863.91,617.02 L865.91,615.73 L867.91,614.44 L869.91,613.15 L871.91,611.85 L873.91,610.55 L875.91,609.25 L877.92,607.95 L879.92,606.64 L881.92,605.33 L883.92,604.02 L885.92,602.71 L887.92,601.39 L889.92,600.07 L891.93,598.75 L893.93,597.43 L895.93,596.10 L897.93,594.77 L899.93,593.44 L901.93,592.10 L903.93,590.77 L905.94,589.43 L907.94,588.08 L909.94,586.74 L911.94,585.39 L913.94,584.04 L915.94,582.69 L917.94,581.33 L919.95,579.97 L921.95,578.61 L923.95,577.25 L925.95,575.88 L927.95,574.51 L929.95,573.14 L931.95,571.76 L933.96,570.38 L935.96,569.00 L937.96,567.62 L939.96,566.23 L941.96,564.84 L943.96,563.45 L945.96,562.06 L947.97,560.66 L949.97,559.26 L951.97,557.85 L953.97,556.44 L955.97,555.03 L957.97,553.62 L959.97,552.20 L961.98,550.79 L963.98,549.36 L965.98,547.94 L967.98,546.51 L969.98,545.08 L971.98,543.64 L973.98,542.20 L975.99,540.76 L977.99,539.32 L979.99,537.87 L981.99,536.42 L983.99,534.97 L985.99,533.51 L987.99,532.05 L990.00,530.59 L992.00,529.12 L994.00,527.65 L996.00,526.18 L998.00,524.70 L1000.00,523.22 L1002.00,521.74 L1004.01,520.25 L1006.01,518.76 L1008.01,517.27 L1010.01,515.77 L1012.01,514.27 L1014.01,512.77 L1016.02,511.26 L1018.02,509.75 L1020.02,508.23 L1022.02,506.72 L1024.02,505.19 L1026.02,503.67 L1028.02,502.14 L1030.03,500.61 L1032.03,499.07 L1034.03,497.53 L1036.03,495.99 L1038.03,494.44 L1040.03,492.89 L1042.03,491.34 L1044.04,489.78 L1046.04,488.22 L1048.04,486.65 L1050.04,485.08 L1052.04,483.51 L1054.04,481.93 L1056.04,480.35 L1058.05,478.77 L1060.05,477.18 L1062.05,475.58 L1064.05,473.99 L1066.05,472.39 L1068.05,470.78 L1070.05,469.17 L1072.06,467.56 L1074.06,465.94 L1076.06,464.32 L1078.06,462.70 L1080.06,461.07 L1082.06,459.44 L1084.06,457.80 L1086.07,456.16 L1088.07,454.51 L1090.07,452.86 L1092.07,451.21 L1094.07,449.55 L1096.07,447.89 L1098.07,446.22 L1098.07,446.31 L1098.56,445.90 L1099.04,445.48 L1099.50,445.06 L1099.95,444.63 L1100.40,444.20 L1100.83,443.77 L1101.25,443.33 L1101.65,442.88 L1102.05,442.43 L1102.43,441.98 L1102.80,441.53 L1103.16,441.07 L1103.51,440.61 L1103.84,440.14 L1104.16,439.68 L1104.47,439.20 L1104.77,438.73 L1105.05,438.25 L1105.33,437.77 L1105.58,437.29 L1105.83,436.80 L1106.06,436.32 L1106.28,435.83 L1106.49,435.34 L1106.68,434.84 L1106.86,434.35 L1107.03,433.85 L1107.19,433.35 L1107.33,432.85 L1107.45,432.35 L1107.57,431.85 L1107.67,431.34 L1107.76,430.84 L1107.83,430.33 L1107.89,429.83 L1107.94,429.32 L1107.97,428.81 L1107.99,428.31 L1108.00,427.80" fill="none" stroke="#000" stroke-width="1.8" />
<line x1="1108" y1="406.5" x2="1108" y2="427.8" stroke="#000" stroke-width="1.8"/>
<line x1="246.2" y1="838.7088964417101" x2="246.2" y2="860.00889644171" stroke="#000" stroke-width="1.8"/>
<line x1="246.2" y1="860.00889644171" x2="303.5" y2="892.0467211401299" stroke="#000" stroke-width="1.8"/>
<line x1="303.5" y1="870.7467211401299" x2="303.5" y2="892.0467211401299" stroke="#000" stroke-width="1.8"/>
<line x1="246.2" y1="838.7088964417101" x2="303.5" y2="870.7467211401299" stroke="#000" stroke-width="1.8"/>
<line x1="273.7" y1="854.72780879092" x2="273.7" y2="876.02780879092" stroke="#000" stroke-width="1.8"/>
<ellipse cx="509.2" cy="671" rx="12.2" ry="7.1" fill="none" stroke="#000" stroke-width="1.8"/>
<ellipse cx="588" cy="608.7" rx="12.2" ry="7.1" fill="none" stroke="#000" stroke-width="1.8"/>
<ellipse cx="593" cy="719.5" rx="12.2" ry="7.1" fill="none" stroke="#000" stroke-width="1.8"/>
<ellipse cx="700.7" cy="674.3" rx="12.2" ry="7.1" fill="none" stroke="#000" stroke-width="1.8"/>
<ellipse cx="814.1" cy="501.8" rx="12.2" ry="7.1" fill="none" stroke="#000" stroke-width="1.8"/>
<ellipse cx="886.5" cy="543.7" rx="12.2" ry="7.1" fill="none" stroke="#000" stroke-width="1.8"/>
<ellipse cx="1057.9" cy="403" rx="12.2" ry="7.1" fill="none" stroke="#000" stroke-width="1.8"/>
<ellipse cx="499.8" cy="725.2" rx="69.6" ry="40" fill="none" stroke="#000" stroke-width="1.8"/>
<ellipse cx="500" cy="724.6" rx="68.2" ry="39.3" fill="none" stroke="#000" stroke-width="1.5"/>
<ellipse cx="499.5" cy="724.85" rx="62.5" ry="36.35" fill="none" stroke="#000" stroke-width="1.5"/>
<ellipse cx="499.5" cy="725.2" rx="61.1" ry="34.9" fill="none" stroke="#000" stroke-width="1.8"/>
<ellipse cx="599.3" cy="667.7" rx="64.5" ry="36.9" fill="none" stroke="#000" stroke-width="1.8"/>
<ellipse cx="599.3" cy="667.15" rx="63" ry="36.35" fill="none" stroke="#000" stroke-width="1.5"/>
<ellipse cx="599.3" cy="667.15" rx="55.4" ry="32.35" fill="none" stroke="#000" stroke-width="1.6"/>
<ellipse cx="599.3" cy="667.4" rx="53.7" ry="31.4" fill="none" stroke="#000" stroke-width="1.4"/>
<ellipse cx="599.5" cy="667.75" rx="51.1" ry="29.55" fill="none" stroke="#000" stroke-width="1.6"/>
<ellipse cx="436.5" cy="761.8" rx="16.2" ry="9.4" fill="none" stroke="#000" stroke-width="1.8"/>
<ellipse cx="436.5" cy="762.6" rx="15" ry="8.4" fill="none" stroke="#000" stroke-width="1.8"/>
<ellipse cx="436.5" cy="763.8" rx="9.1" ry="4.8" fill="none" stroke="#000" stroke-width="1.8"/>
<ellipse cx="534.2" cy="706.1" rx="11.4" ry="6.8" fill="none" stroke="#000" stroke-width="1.8"/>
<ellipse cx="534.2" cy="706.8" rx="10.4" ry="6" fill="none" stroke="#000" stroke-width="1.8"/>
<ellipse cx="534.2" cy="707" rx="6.5" ry="3.7" fill="none" stroke="#000" stroke-width="1.8"/>
<clipPath id="slotclip"><path d="M656.24,573.55 L727.74,532.55 A75.32,43.49 0 0 1 834.26,594.05 L762.76,635.05 A75.32,43.49 0 0 1 656.24,573.55 Z"/></clipPath>
<path d="M656.24,573.55 L727.74,532.55 A75.32,43.49 0 0 1 834.26,594.05 L762.76,635.05 A75.32,43.49 0 0 1 656.24,573.55 Z" fill="none" stroke="#000" stroke-width="1.8" />
<path d="M656.24,594.05 L727.74,553.05 A75.32,43.49 0 0 1 834.26,614.55 L762.76,655.55 A75.32,43.49 0 0 1 656.24,594.05 Z" fill="none" stroke="#000" stroke-width="1.8" clip-path="url(#slotclip)"/>
<clipPath id="wclip"><ellipse cx="599.5" cy="667.7" rx="51.1" ry="29.5"/></clipPath>
<ellipse cx="599.5" cy="688.7" rx="51.1" ry="29.5" fill="none" stroke="#000" stroke-width="1.8" clip-path="url(#wclip)"/>
<clipPath id="dclip"><path d="M489.30,700.50 C493.58,702.97 506.47,710.38 515.00,715.30 C523.53,720.22 535.53,726.92 540.50,730.00 C545.47,733.08 544.13,732.30 544.80,733.80 C545.47,735.30 545.38,737.38 544.50,739.00 C543.62,740.62 541.32,742.17 539.50,743.50 C537.68,744.83 534.93,746.08 533.60,747.00 C532.27,747.92 532.35,748.49 531.51,749.03 C530.68,749.58 529.58,749.89 528.58,750.29 C527.58,750.68 526.55,751.06 525.50,751.41 C524.45,751.77 523.38,752.10 522.30,752.41 C521.21,752.72 520.10,753.01 518.98,753.28 C517.86,753.54 516.72,753.79 515.57,754.01 C514.42,754.23 513.25,754.42 512.08,754.59 C510.91,754.77 509.72,754.91 508.53,755.04 C507.34,755.16 506.14,755.26 504.94,755.33 C503.73,755.41 502.52,755.46 501.31,755.48 C500.11,755.51 498.89,755.51 497.69,755.48 C496.48,755.46 495.27,755.41 494.06,755.33 C492.86,755.26 491.66,755.16 490.47,755.04 C489.28,754.91 488.09,754.77 486.92,754.59 C485.75,754.42 484.58,754.23 483.43,754.01 C482.28,753.79 481.14,753.54 480.02,753.28 C478.90,753.01 477.79,752.72 476.70,752.41 C475.62,752.10 474.55,751.77 473.50,751.41 C472.45,751.06 471.42,750.68 470.42,750.29 C469.42,749.89 468.44,749.47 467.49,749.03 C466.53,748.60 465.60,748.14 464.71,747.67 C463.81,747.19 462.93,746.70 462.09,746.19 C461.25,745.68 460.44,745.15 459.67,744.61 C458.89,744.06 458.14,743.50 457.43,742.93 C456.72,742.35 456.04,741.76 455.40,741.16 C454.76,740.56 454.15,739.95 453.59,739.32 C453.02,738.69 452.49,738.05 452.00,737.41 C451.50,736.76 451.05,736.10 450.64,735.43 C450.22,734.77 449.85,734.09 449.51,733.41 C449.18,732.73 448.89,732.03 448.64,731.34 C448.38,730.65 448.17,729.95 448.01,729.24 C447.84,728.54 447.71,727.84 447.63,727.13 C447.54,726.42 447.50,725.71 447.50,725.00 C447.50,724.29 447.54,723.58 447.63,722.87 C447.71,722.16 447.84,721.46 448.01,720.76 C448.17,720.05 448.38,719.35 448.64,718.66 C448.89,717.97 449.18,717.27 449.51,716.59 C449.85,715.91 450.22,715.23 450.64,714.57 C451.05,713.90 451.50,713.24 452.00,712.59 C452.49,711.95 453.02,711.31 453.59,710.68 C454.15,710.05 454.76,709.44 455.40,708.84 C456.04,708.24 456.72,707.65 457.43,707.07 C458.14,706.50 458.89,705.94 459.67,705.39 C460.44,704.85 461.25,704.32 462.09,703.81 C462.93,703.30 464.04,702.70 464.71,702.33 C465.37,701.97 464.44,702.22 466.08,701.64 C467.71,701.05 471.95,699.37 474.50,698.80 C477.05,698.23 478.93,697.92 481.40,698.20 C483.87,698.48 487.98,700.12 489.30,700.50 Z"/></clipPath>
<path d="M489.30,700.50 C493.58,702.97 506.47,710.38 515.00,715.30 C523.53,720.22 535.53,726.92 540.50,730.00 C545.47,733.08 544.13,732.30 544.80,733.80 C545.47,735.30 545.38,737.38 544.50,739.00 C543.62,740.62 541.32,742.17 539.50,743.50 C537.68,744.83 534.93,746.08 533.60,747.00 C532.27,747.92 532.35,748.49 531.51,749.03 C530.68,749.58 529.58,749.89 528.58,750.29 C527.58,750.68 526.55,751.06 525.50,751.41 C524.45,751.77 523.38,752.10 522.30,752.41 C521.21,752.72 520.10,753.01 518.98,753.28 C517.86,753.54 516.72,753.79 515.57,754.01 C514.42,754.23 513.25,754.42 512.08,754.59 C510.91,754.77 509.72,754.91 508.53,755.04 C507.34,755.16 506.14,755.26 504.94,755.33 C503.73,755.41 502.52,755.46 501.31,755.48 C500.11,755.51 498.89,755.51 497.69,755.48 C496.48,755.46 495.27,755.41 494.06,755.33 C492.86,755.26 491.66,755.16 490.47,755.04 C489.28,754.91 488.09,754.77 486.92,754.59 C485.75,754.42 484.58,754.23 483.43,754.01 C482.28,753.79 481.14,753.54 480.02,753.28 C478.90,753.01 477.79,752.72 476.70,752.41 C475.62,752.10 474.55,751.77 473.50,751.41 C472.45,751.06 471.42,750.68 470.42,750.29 C469.42,749.89 468.44,749.47 467.49,749.03 C466.53,748.60 465.60,748.14 464.71,747.67 C463.81,747.19 462.93,746.70 462.09,746.19 C461.25,745.68 460.44,745.15 459.67,744.61 C458.89,744.06 458.14,743.50 457.43,742.93 C456.72,742.35 456.04,741.76 455.40,741.16 C454.76,740.56 454.15,739.95 453.59,739.32 C453.02,738.69 452.49,738.05 452.00,737.41 C451.50,736.76 451.05,736.10 450.64,735.43 C450.22,734.77 449.85,734.09 449.51,733.41 C449.18,732.73 448.89,732.03 448.64,731.34 C448.38,730.65 448.17,729.95 448.01,729.24 C447.84,728.54 447.71,727.84 447.63,727.13 C447.54,726.42 447.50,725.71 447.50,725.00 C447.50,724.29 447.54,723.58 447.63,722.87 C447.71,722.16 447.84,721.46 448.01,720.76 C448.17,720.05 448.38,719.35 448.64,718.66 C448.89,717.97 449.18,717.27 449.51,716.59 C449.85,715.91 450.22,715.23 450.64,714.57 C451.05,713.90 451.50,713.24 452.00,712.59 C452.49,711.95 453.02,711.31 453.59,710.68 C454.15,710.05 454.76,709.44 455.40,708.84 C456.04,708.24 456.72,707.65 457.43,707.07 C458.14,706.50 458.89,705.94 459.67,705.39 C460.44,704.85 461.25,704.32 462.09,703.81 C462.93,703.30 464.04,702.70 464.71,702.33 C465.37,701.97 464.44,702.22 466.08,701.64 C467.71,701.05 471.95,699.37 474.50,698.80 C477.05,698.23 478.93,697.92 481.40,698.20 C483.87,698.48 487.98,700.12 489.30,700.50 Z" fill="none" stroke="#000" stroke-width="1.8" />
<g clip-path="url(#dclip)"><path d="M489.30,700.50 C493.58,702.97 506.47,710.38 515.00,715.30 C523.53,720.22 535.53,726.92 540.50,730.00 C545.47,733.08 544.13,732.30 544.80,733.80 C545.47,735.30 545.38,737.38 544.50,739.00 C543.62,740.62 541.32,742.17 539.50,743.50 C537.68,744.83 534.93,746.08 533.60,747.00 C532.27,747.92 532.35,748.49 531.51,749.03 C530.68,749.58 529.58,749.89 528.58,750.29 C527.58,750.68 526.55,751.06 525.50,751.41 C524.45,751.77 523.38,752.10 522.30,752.41 C521.21,752.72 520.10,753.01 518.98,753.28 C517.86,753.54 516.72,753.79 515.57,754.01 C514.42,754.23 513.25,754.42 512.08,754.59 C510.91,754.77 509.72,754.91 508.53,755.04 C507.34,755.16 506.14,755.26 504.94,755.33 C503.73,755.41 502.52,755.46 501.31,755.48 C500.11,755.51 498.89,755.51 497.69,755.48 C496.48,755.46 495.27,755.41 494.06,755.33 C492.86,755.26 491.66,755.16 490.47,755.04 C489.28,754.91 488.09,754.77 486.92,754.59 C485.75,754.42 484.58,754.23 483.43,754.01 C482.28,753.79 481.14,753.54 480.02,753.28 C478.90,753.01 477.79,752.72 476.70,752.41 C475.62,752.10 474.55,751.77 473.50,751.41 C472.45,751.06 471.42,750.68 470.42,750.29 C469.42,749.89 468.44,749.47 467.49,749.03 C466.53,748.60 465.60,748.14 464.71,747.67 C463.81,747.19 462.93,746.70 462.09,746.19 C461.25,745.68 460.44,745.15 459.67,744.61 C458.89,744.06 458.14,743.50 457.43,742.93 C456.72,742.35 456.04,741.76 455.40,741.16 C454.76,740.56 454.15,739.95 453.59,739.32 C453.02,738.69 452.49,738.05 452.00,737.41 C451.50,736.76 451.05,736.10 450.64,735.43 C450.22,734.77 449.85,734.09 449.51,733.41 C449.18,732.73 448.89,732.03 448.64,731.34 C448.38,730.65 448.17,729.95 448.01,729.24 C447.84,728.54 447.71,727.84 447.63,727.13 C447.54,726.42 447.50,725.71 447.50,725.00 C447.50,724.29 447.54,723.58 447.63,722.87 C447.71,722.16 447.84,721.46 448.01,720.76 C448.17,720.05 448.38,719.35 448.64,718.66 C448.89,717.97 449.18,717.27 449.51,716.59 C449.85,715.91 450.22,715.23 450.64,714.57 C451.05,713.90 451.50,713.24 452.00,712.59 C452.49,711.95 453.02,711.31 453.59,710.68 C454.15,710.05 454.76,709.44 455.40,708.84 C456.04,708.24 456.72,707.65 457.43,707.07 C458.14,706.50 458.89,705.94 459.67,705.39 C460.44,704.85 461.25,704.32 462.09,703.81 C462.93,703.30 464.04,702.70 464.71,702.33 C465.37,701.97 464.44,702.22 466.08,701.64 C467.71,701.05 471.95,699.37 474.50,698.80 C477.05,698.23 478.93,697.92 481.40,698.20 C483.87,698.48 487.98,700.12 489.30,700.50 Z" transform="translate(0,21)" fill="none" stroke="#000" stroke-width="1.8"/></g>
<ellipse cx="814.1" cy="352.8" rx="11.2" ry="6.3" fill="none" stroke="#000" stroke-width="1.8"/>
<ellipse cx="814.1" cy="353.5" rx="9.6" ry="5.2" fill="none" stroke="#000" stroke-width="1.2"/>
<line x1="802.9" y1="352.8" x2="802.9" y2="455.5" stroke="#000" stroke-width="1.8"/>
<line x1="825.3000000000001" y1="352.8" x2="825.3000000000001" y2="455.5" stroke="#000" stroke-width="1.8"/>
<path d="M802.9,355.80 A11.2,6.3 0 0 0 825.3000000000001,355.80" fill="none" stroke="#000" stroke-width="1.35" />
<path d="M802.9,358.80 A11.2,6.3 0 0 0 825.3000000000001,358.80" fill="none" stroke="#000" stroke-width="1.35" />
<path d="M802.9,361.80 A11.2,6.3 0 0 0 825.3000000000001,361.80" fill="none" stroke="#000" stroke-width="1.35" />
<path d="M802.9,364.80 A11.2,6.3 0 0 0 825.3000000000001,364.80" fill="none" stroke="#000" stroke-width="1.35" />
<path d="M802.9,367.80 A11.2,6.3 0 0 0 825.3000000000001,367.80" fill="none" stroke="#000" stroke-width="1.35" />
<path d="M802.9,370.80 A11.2,6.3 0 0 0 825.3000000000001,370.80" fill="none" stroke="#000" stroke-width="1.35" />
<path d="M802.9,373.80 A11.2,6.3 0 0 0 825.3000000000001,373.80" fill="none" stroke="#000" stroke-width="1.35" />
<path d="M802.9,423.00 A11.2,6.3 0 0 0 825.3000000000001,423.00" fill="none" stroke="#000" stroke-width="1.15" />
<path d="M802.9,424.85 A11.2,6.3 0 0 0 825.3000000000001,424.85" fill="none" stroke="#000" stroke-width="1.15" />
<path d="M802.9,426.70 A11.2,6.3 0 0 0 825.3000000000001,426.70" fill="none" stroke="#000" stroke-width="1.15" />
<path d="M802.9,428.55 A11.2,6.3 0 0 0 825.3000000000001,428.55" fill="none" stroke="#000" stroke-width="1.15" />
<path d="M802.9,430.40 A11.2,6.3 0 0 0 825.3000000000001,430.40" fill="none" stroke="#000" stroke-width="1.15" />
<path d="M802.9,432.25 A11.2,6.3 0 0 0 825.3000000000001,432.25" fill="none" stroke="#000" stroke-width="1.15" />
<path d="M802.9,434.10 A11.2,6.3 0 0 0 825.3000000000001,434.10" fill="none" stroke="#000" stroke-width="1.15" />
<path d="M802.9,435.95 A11.2,6.3 0 0 0 825.3000000000001,435.95" fill="none" stroke="#000" stroke-width="1.15" />
<path d="M802.9,437.80 A11.2,6.3 0 0 0 825.3000000000001,437.80" fill="none" stroke="#000" stroke-width="1.15" />
<path d="M802.9,439.65 A11.2,6.3 0 0 0 825.3000000000001,439.65" fill="none" stroke="#000" stroke-width="1.15" />
<path d="M802.9,441.50 A11.2,6.3 0 0 0 825.3000000000001,441.50" fill="none" stroke="#000" stroke-width="1.15" />
<path d="M802.9,443.35 A11.2,6.3 0 0 0 825.3000000000001,443.35" fill="none" stroke="#000" stroke-width="1.15" />
<path d="M802.9,445.20 A11.2,6.3 0 0 0 825.3000000000001,445.20" fill="none" stroke="#000" stroke-width="1.15" />
<path d="M802.9,447.05 A11.2,6.3 0 0 0 825.3000000000001,447.05" fill="none" stroke="#000" stroke-width="1.15" />
<path d="M802.9,448.90 A11.2,6.3 0 0 0 825.3000000000001,448.90" fill="none" stroke="#000" stroke-width="1.15" />
<path d="M802.9,450.75 A11.2,6.3 0 0 0 825.3000000000001,450.75" fill="none" stroke="#000" stroke-width="1.15" />
<path d="M802.9,452.60 A11.2,6.3 0 0 0 825.3000000000001,452.60" fill="none" stroke="#000" stroke-width="1.15" />
<path d="M802.9,454.45 A11.2,6.3 0 0 0 825.3000000000001,454.45" fill="none" stroke="#000" stroke-width="1.15" />
<path d="M802.9,455.5 A11.2,6.3 0 0 0 825.3000000000001,455.5" fill="none" stroke="#000" stroke-width="1.8" />
<path d="M794,331.3 L794,333 A19.75,10.9 0 0 0 833.4,333 L833.4,331.3" fill="none" stroke="#000" stroke-width="1.8" />
<ellipse cx="813.7" cy="331.3" rx="19.75" ry="10.9" fill="#fff" stroke="#000" stroke-width="1.8"/>
<ellipse cx="813.7" cy="331.3" rx="11.6" ry="6.4" fill="none" stroke="#000" stroke-width="1.8"/>
<path d="M802.1,331.3 A11.6,6.4 0 0 1 825.3,331.3" fill="none" stroke="#000" stroke-width="0.9" />
<path d="M796.5,297 L809.5,303.3 L827.2,301.4 L832,293.7 L832.3,300.1 L827.6,311.4 L808.9,314 L795.9,306.3 Z" fill="#fff" stroke="#000" stroke-width="1.7" stroke-linejoin="round"/>
<line x1="809.5" y1="303.3" x2="808.9" y2="314" stroke="#000" stroke-width="1.6"/>
<line x1="827.2" y1="301.4" x2="827.6" y2="311.4" stroke="#000" stroke-width="1.6"/>
<path d="M797.3,292 A16.6,9.6 0 0 0 831.8,292" fill="none" stroke="#000" stroke-width="1.7" />
<path d="M796.5,297 L797.3,290.5 M832,293.7 L831.8,289" stroke="#000" stroke-width="1.6"/>
<ellipse cx="813.8" cy="290.4" rx="16" ry="9.3" fill="#fff" stroke="#000" stroke-width="1.8"/>
<ellipse cx="813.8" cy="290.2" rx="11.5" ry="6.5" fill="none" stroke="#000" stroke-width="1.8"/>
<line x1="1048.6" y1="209" x2="1048.6" y2="360.5" stroke="#000" stroke-width="1.8"/>
<line x1="1068.4" y1="209" x2="1068.4" y2="360.5" stroke="#000" stroke-width="1.8"/>
<path d="M1048.6,319.80 A9.9,5.2 0 0 0 1068.4,319.80" fill="none" stroke="#000" stroke-width="1.0" />
<path d="M1048.6,322.70 A9.9,5.2 0 0 0 1068.4,322.70" fill="none" stroke="#000" stroke-width="1.0" />
<path d="M1048.6,325.60 A9.9,5.2 0 0 0 1068.4,325.60" fill="none" stroke="#000" stroke-width="1.0" />
<path d="M1048.6,328.50 A9.9,5.2 0 0 0 1068.4,328.50" fill="none" stroke="#000" stroke-width="1.0" />
<path d="M1048.6,331.40 A9.9,5.2 0 0 0 1068.4,331.40" fill="none" stroke="#000" stroke-width="1.0" />
<path d="M1048.6,334.30 A9.9,5.2 0 0 0 1068.4,334.30" fill="none" stroke="#000" stroke-width="1.0" />
<path d="M1048.6,337.20 A9.9,5.2 0 0 0 1068.4,337.20" fill="none" stroke="#000" stroke-width="1.0" />
<path d="M1048.6,340.10 A9.9,5.2 0 0 0 1068.4,340.10" fill="none" stroke="#000" stroke-width="1.0" />
<path d="M1048.6,343.00 A9.9,5.2 0 0 0 1068.4,343.00" fill="none" stroke="#000" stroke-width="1.0" />
<path d="M1048.6,345.90 A9.9,5.2 0 0 0 1068.4,345.90" fill="none" stroke="#000" stroke-width="1.0" />
<path d="M1048.6,348.80 A9.9,5.2 0 0 0 1068.4,348.80" fill="none" stroke="#000" stroke-width="1.0" />
<path d="M1048.6,351.70 A9.9,5.2 0 0 0 1068.4,351.70" fill="none" stroke="#000" stroke-width="1.0" />
<path d="M1048.6,354.60 A9.9,5.2 0 0 0 1068.4,354.60" fill="none" stroke="#000" stroke-width="1.0" />
<path d="M1048.6,357.50 A9.9,5.2 0 0 0 1068.4,357.50" fill="none" stroke="#000" stroke-width="1.0" />
<path d="M1048.6,360.40 A9.9,5.2 0 0 0 1068.4,360.40" fill="none" stroke="#000" stroke-width="1.0" />
<path d="M1048.6,360.5 A9.9,5.2 0 0 0 1068.4,360.5" fill="none" stroke="#000" stroke-width="1.8" />
<path d="M1043.7,191.2 L1043.7,204 A14.8,8.7 0 0 0 1073.3,204 L1073.3,191.2" fill="#fff" stroke="#000" stroke-width="1.8"/>
<ellipse cx="1058.5" cy="191.2" rx="14.8" ry="8.7" fill="#fff" stroke="#000" stroke-width="1.8"/>
<polygon points="1051.3,191 1054.9,186.9 1062.1,186.9 1065.7,191 1062.1,195.1 1054.9,195.1" fill="none" stroke="#000" stroke-width="1.3"/>
<path d="M1054.9,189 L1062.1,189 L1063.8,191.5 M1054.9,189 L1053,191.5" fill="none" stroke="#000" stroke-width="1"/>
<path d="M1041.9,498.2 L1041.9,500.5 A16.2,9.8 0 0 0 1074.3,500.5 L1074.3,498.2" fill="none" stroke="#000" stroke-width="1.8" />
<ellipse cx="1058.1" cy="498.2" rx="16.2" ry="9.8" fill="#fff" stroke="#000" stroke-width="1.7"/>
<ellipse cx="1057.9" cy="498.15" rx="9.8" ry="5.95" fill="none" stroke="#000" stroke-width="1.5"/>
<path d="M1048.1,499.3 A9.8,5.9 0 0 1 1067.7,499.3" fill="none" stroke="#000" stroke-width="0.9" />
<path d="M1042.7,526.5 L1043.2,534 C1043.5,537.5 1044.2,539.5 1046,540.8 C1049.5,543.6 1054,545.2 1059.5,545.2 C1065.5,545.1 1070.5,542.5 1073.8,538.8 L1074.2,531 L1073.9,526.5" fill="#fff" stroke="#000" stroke-width="1.7" stroke-linejoin="round"/>
<path d="M1044.8,534.6 C1050,536.8 1056,537.4 1061.8,536.9 C1066.5,536 1070.5,534 1073.9,531" fill="none" stroke="#000" stroke-width="1.5" />
<line x1="1061.9" y1="536.9" x2="1061.9" y2="545.1" stroke="#000" stroke-width="1.5"/>
<line x1="1044.9" y1="534.6" x2="1044.9" y2="540.2" stroke="#000" stroke-width="1.4"/>
<ellipse cx="1058.3" cy="527.3" rx="15.5" ry="8.2" fill="none" stroke="#000" stroke-width="1.7"/>
<ellipse cx="1058.1" cy="527.7" rx="9.8" ry="5.3" fill="none" stroke="#000" stroke-width="1.6"/>
<ellipse cx="499.9" cy="578.8" rx="67.5" ry="39.9" fill="none" stroke="#000" stroke-width="1.8"/>
<ellipse cx="499.9" cy="578.6" rx="62.5" ry="35.4" fill="none" stroke="#000" stroke-width="1.8"/>
<ellipse cx="599.5" cy="511.3" rx="64.4" ry="38.7" fill="none" stroke="#000" stroke-width="1.8"/>
<ellipse cx="599.5" cy="511.8" rx="57.8" ry="31.5" fill="none" stroke="#000" stroke-width="1.8"/>
<ellipse cx="533.8" cy="563.5" rx="11.4" ry="7.2" fill="none" stroke="#000" stroke-width="1.8"/>
<ellipse cx="533.8" cy="563.5" rx="7.9" ry="3.7" fill="none" stroke="#000" stroke-width="1.8"/>
<ellipse cx="436.4" cy="618.1" rx="16.2" ry="10.2" fill="none" stroke="#000" stroke-width="1.8"/>
<ellipse cx="436.4" cy="618.1" rx="12.9" ry="6.6" fill="none" stroke="#000" stroke-width="1.8"/>
<ellipse cx="599.4" cy="413.2" rx="51.5" ry="28.6" fill="none" stroke="#000" stroke-width="1.8"/>
<line x1="547.9" y1="414" x2="547.9" y2="434" stroke="#000" stroke-width="1.8"/>
<line x1="650.9" y1="414" x2="650.9" y2="434" stroke="#000" stroke-width="1.8"/>
<path d="M547.9,434 A51.5,28.6 0 0 0 650.9,434" fill="none" stroke="#000" stroke-width="1.8" />
<ellipse cx="599.4" cy="413.8" rx="41" ry="24.2" fill="none" stroke="#000" stroke-width="1.8"/>
<ellipse cx="599.4" cy="413.2" rx="39" ry="22.6" fill="none" stroke="#000" stroke-width="1.5"/>
<clipPath id="bclip"><ellipse cx="599.4" cy="413.2" rx="39" ry="22.6"/></clipPath>
<ellipse cx="599.4" cy="433.6" rx="39" ry="22.6" fill="none" stroke="#000" stroke-width="1.8" clip-path="url(#bclip)"/>
<path d="M548.2,416 A51.2,28.6 0 0 0 650.6,416" fill="none" stroke="#000" stroke-width="1.8" />
<ellipse cx="599.4" cy="801.25" rx="31.9" ry="18.75" fill="none" stroke="#000" stroke-width="1.8"/>
<ellipse cx="599.4" cy="801.25" rx="27.3" ry="15.6" fill="none" stroke="#000" stroke-width="1.8"/>
<ellipse cx="599.6" cy="803.6" rx="23" ry="12.5" fill="none" stroke="#000" stroke-width="1.8"/>
<line x1="567.5" y1="801" x2="567.5" y2="905.6" stroke="#000" stroke-width="1.8"/>
<line x1="631.3" y1="801" x2="631.3" y2="905.6" stroke="#000" stroke-width="1.8"/>
<path d="M567.5,905.6 A31.9,18.75 0 0 0 631.3,905.6" fill="none" stroke="#000" stroke-width="1.8" />
<path d="M229,736.8 L259.4,736.8 L304.83,787.89" fill="none" stroke="#000" stroke-width="1.25" />
<polygon points="303.50,786.40 292.73,779.25 296.66,778.70 297.66,774.87" fill="#000" stroke="#000" stroke-width="0.4" stroke-linejoin="miter"/>
<ellipse cx="218.5" cy="736.8" rx="10.3" ry="10.3" fill="#fff" stroke="#000" stroke-width="1.3"/>
<path d="M-2.4,0.8 L0,0 L0,12.6" transform="translate(219.70,730.50)" fill="none" stroke="#000" stroke-width="1.25" stroke-linejoin="round"/>
<path d="M320.6,553.5 L353,553.5 L426.25,612.86" fill="none" stroke="#000" stroke-width="1.25" />
<polygon points="424.70,611.60 412.91,606.29 416.70,605.12 417.07,601.17" fill="#000" stroke="#000" stroke-width="0.4" stroke-linejoin="miter"/>
<ellipse cx="310.6" cy="553.5" rx="10.3" ry="10.3" fill="#fff" stroke="#000" stroke-width="1.3"/>
<path d="M0.3,3.2 C0.8,1.1 2.2,0 4,0 C6.1,0 7.6,1.5 7.6,3.3 C7.6,4.6 7,5.5 6.1,6.5 L0.2,12.3 L8,12.3" transform="translate(306.60,547.20)" fill="none" stroke="#000" stroke-width="1.25" stroke-linejoin="round"/>
<path d="M414.5,487.6 L446.3,487.6 L528.49,561.34" fill="none" stroke="#000" stroke-width="1.25" />
<polygon points="527.00,560.00 515.49,554.11 519.33,553.12 519.90,549.20" fill="#000" stroke="#000" stroke-width="0.4" stroke-linejoin="miter"/>
<ellipse cx="404.5" cy="487.6" rx="10.3" ry="10.3" fill="#fff" stroke="#000" stroke-width="1.3"/>
<path d="M0.9,2.4 C1.6,0.8 2.8,0 4.3,0 C6.1,0 7.3,1.2 7.3,2.8 C7.3,4.5 6,5.6 3.9,5.6 C6.3,5.7 8,7.2 8,9.2 C8,11.3 6.4,12.6 4.2,12.6 C2.5,12.6 1,11.7 0.2,10.1" transform="translate(400.50,481.30)" fill="none" stroke="#000" stroke-width="1.25" stroke-linejoin="round"/>
<path d="M362,515.2 L393.6,515.2 L453.19,553.28" fill="none" stroke="#000" stroke-width="1.25" />
<polygon points="451.50,552.20 439.19,548.25 442.82,546.65 442.74,542.69" fill="#000" stroke="#000" stroke-width="0.4" stroke-linejoin="miter"/>
<ellipse cx="351.8" cy="515.2" rx="10.3" ry="10.3" fill="#fff" stroke="#000" stroke-width="1.3"/>
<path d="M6.4,12.6 L6.4,0 L0,9.1 L8.3,9.1" transform="translate(347.80,508.90)" fill="none" stroke="#000" stroke-width="1.25" stroke-linejoin="round"/>
<path d="M457.2,451.2 L488.4,451.2 L549.73,486.60" fill="none" stroke="#000" stroke-width="1.25" />
<polygon points="548.00,485.60 535.52,482.21 539.08,480.45 538.82,476.49" fill="#000" stroke="#000" stroke-width="0.4" stroke-linejoin="miter"/>
<ellipse cx="447.2" cy="451.2" rx="10.3" ry="10.3" fill="#fff" stroke="#000" stroke-width="1.3"/>
<path d="M7.9,0.4 L2.3,0.4 L1.4,5.9 C2.3,5.1 3.2,4.8 4.3,4.8 C6.5,4.8 8,6.5 8,8.7 C8,11 6.4,12.6 4.2,12.6 C2.6,12.6 1.2,11.8 0.3,10.3" transform="translate(443.20,444.90)" fill="none" stroke="#000" stroke-width="1.25" stroke-linejoin="round"/>
<path d="M702.3,364.9 L670.9,364.9 L650.08,418.97" fill="none" stroke="#000" stroke-width="1.25" />
<polygon points="650.80,417.10 652.21,404.25 654.50,407.49 658.37,406.62" fill="#000" stroke="#000" stroke-width="0.4" stroke-linejoin="miter"/>
<ellipse cx="712.7" cy="364.9" rx="10.3" ry="10.3" fill="#fff" stroke="#000" stroke-width="1.3"/>
<path d="M5.8,0 L0.9,6.9 M4,4.6 A3.9,4 0 0 1 4,12.6 A3.9,4 0 0 1 4,4.6 Z" transform="translate(708.70,358.60)" fill="none" stroke="#000" stroke-width="1.25" stroke-linejoin="round"/>
<path d="M897,319.5 L865.5,319.5 L823.76,354.18" fill="none" stroke="#000" stroke-width="1.25" />
<polygon points="825.30,352.90 832.81,342.37 833.22,346.32 837.02,347.45" fill="#000" stroke="#000" stroke-width="0.4" stroke-linejoin="miter"/>
<ellipse cx="907" cy="319.5" rx="10.3" ry="10.3" fill="#fff" stroke="#000" stroke-width="1.3"/>
<path d="M0,0.4 L8,0.4 L2.6,12.6" transform="translate(903.00,313.20)" fill="none" stroke="#000" stroke-width="1.25" stroke-linejoin="round"/>
<path d="M897,294.8 L865.9,294.8 L826.89,323.48" fill="none" stroke="#000" stroke-width="1.25" />
<polygon points="828.50,322.30 836.62,312.24 836.80,316.20 840.53,317.55" fill="#000" stroke="#000" stroke-width="0.4" stroke-linejoin="miter"/>
<ellipse cx="907" cy="294.8" rx="10.3" ry="10.3" fill="#fff" stroke="#000" stroke-width="1.3"/>
<path d="M4,0 A3.2,3.05 0 0 1 4,6.1 A3.2,3.05 0 0 1 4,0 Z M4,6.1 A3.9,3.25 0 0 1 4,12.6 A3.9,3.25 0 0 1 4,6.1 Z" transform="translate(903.00,288.50)" fill="none" stroke="#000" stroke-width="1.25" stroke-linejoin="round"/>
<path d="M898,268.7 L867.1,268.7 L830.11,291.96" fill="none" stroke="#000" stroke-width="1.25" />
<polygon points="831.80,290.90 840.62,281.45 840.52,285.42 844.14,287.04" fill="#000" stroke="#000" stroke-width="0.4" stroke-linejoin="miter"/>
<ellipse cx="908.3" cy="268.7" rx="10.3" ry="10.3" fill="#fff" stroke="#000" stroke-width="1.3"/>
<path d="M4,0 A3.9,4 0 0 1 4,8 A3.9,4 0 0 1 4,0 Z M7.2,5.6 L2.3,12.6" transform="translate(904.30,262.40)" fill="none" stroke="#000" stroke-width="1.25" stroke-linejoin="round"/>
<path d="M989.6,284.3 L1020.5,284.3 L1049.74,321.17" fill="none" stroke="#000" stroke-width="1.25" />
<polygon points="1048.50,319.60 1038.15,311.86 1042.10,311.53 1043.32,307.76" fill="#000" stroke="#000" stroke-width="0.4" stroke-linejoin="miter"/>
<ellipse cx="976.1" cy="284.3" rx="13.5" ry="13.5" fill="#fff" stroke="#000" stroke-width="1.3"/>
<path d="M-2.4,0.8 L0,0 L0,12.6" transform="translate(971.80,278.00)" fill="none" stroke="#000" stroke-width="1.25" stroke-linejoin="round"/>
<path d="M4,0 A4,6.3 0 0 1 4,12.6 A4,6.3 0 0 1 4,0 Z" transform="translate(977.30,278.00)" fill="none" stroke="#000" stroke-width="1.25" stroke-linejoin="round"/>
<path d="M1138.8,473.3 L1107.5,473.3 L1073.55,500.86" fill="none" stroke="#000" stroke-width="1.25" />
<polygon points="1075.10,499.60 1082.73,489.16 1083.10,493.11 1086.88,494.28" fill="#000" stroke="#000" stroke-width="0.4" stroke-linejoin="miter"/>
<ellipse cx="1152.6" cy="473.3" rx="13.6" ry="13.6" fill="#fff" stroke="#000" stroke-width="1.3"/>
<path d="M-2.4,0.8 L0,0 L0,12.6" transform="translate(1148.30,467.00)" fill="none" stroke="#000" stroke-width="1.25" stroke-linejoin="round"/>
<path d="M-2.4,0.8 L0,0 L0,12.6" transform="translate(1158.30,467.00)" fill="none" stroke="#000" stroke-width="1.25" stroke-linejoin="round"/>
<path d="M1138.8,510.5 L1108.5,510.5 L1073.40,532.05" fill="none" stroke="#000" stroke-width="1.25" />
<polygon points="1075.10,531.00 1084.03,521.65 1083.88,525.61 1087.48,527.27" fill="#000" stroke="#000" stroke-width="0.4" stroke-linejoin="miter"/>
<ellipse cx="1152.5" cy="510.5" rx="13.6" ry="13.6" fill="#fff" stroke="#000" stroke-width="1.3"/>
<path d="M-2.4,0.8 L0,0 L0,12.6" transform="translate(1148.20,504.20)" fill="none" stroke="#000" stroke-width="1.25" stroke-linejoin="round"/>
<path d="M0.3,3.2 C0.8,1.1 2.2,0 4,0 C6.1,0 7.6,1.5 7.6,3.3 C7.6,4.6 7,5.5 6.1,6.5 L0.2,12.3 L8,12.3" transform="translate(1153.70,504.20)" fill="none" stroke="#000" stroke-width="1.25" stroke-linejoin="round"/>
<path d="M466,909.4 L498.4,909.4 L569.76,851.84" fill="none" stroke="#000" stroke-width="1.25" />
<polygon points="568.20,853.10 560.54,863.52 560.18,859.57 556.40,858.38" fill="#000" stroke="#000" stroke-width="0.4" stroke-linejoin="miter"/>
<ellipse cx="452.8" cy="909.4" rx="13.3" ry="13.3" fill="#fff" stroke="#000" stroke-width="1.3"/>
<path d="M-2.4,0.8 L0,0 L0,12.6" transform="translate(448.50,903.10)" fill="none" stroke="#000" stroke-width="1.25" stroke-linejoin="round"/>
<path d="M0.9,2.4 C1.6,0.8 2.8,0 4.3,0 C6.1,0 7.3,1.2 7.3,2.8 C7.3,4.5 6,5.6 3.9,5.6 C6.3,5.7 8,7.2 8,9.2 C8,11.3 6.4,12.6 4.2,12.6 C2.5,12.6 1,11.7 0.2,10.1" transform="translate(454.00,903.10)" fill="none" stroke="#000" stroke-width="1.25" stroke-linejoin="round"/>
</svg></body></html>
